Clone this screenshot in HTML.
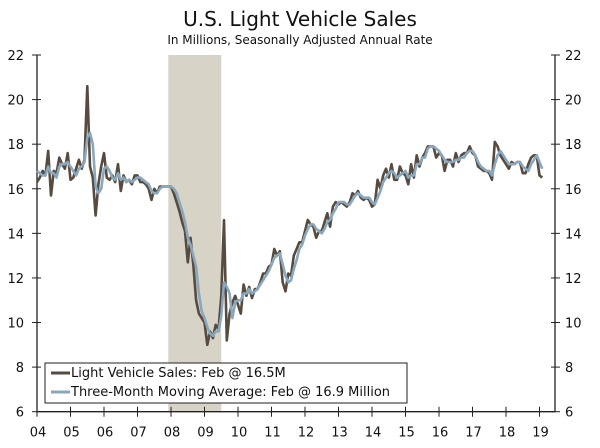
<!DOCTYPE html>
<html><head><meta charset="utf-8"><style>
body{margin:0;background:#fff;}
svg{display:block;font-family:"DejaVu Sans","Liberation Sans",sans-serif;}
</style></head><body>
<svg id="c" width="600" height="448">
<text x="300" y="26" text-anchor="middle" font-size="20" fill="#111">U.S. Light Vehicle Sales</text>
<text x="300" y="44" text-anchor="middle" font-size="12" fill="#111">In Millions, Seasonally Adjusted Annual Rate</text>
<g id="plot"></g>
</svg>
<script>
const yearLabels=["04","05","06","07","08","09","10","11","12","13","14","15","16","17","18","19"];
const yTicks=[6,8,10,12,14,16,18,20,22];
const recession=[2007.92,2009.5];
const sales=[
16.3,16.5,16.8,16.6,17.7,15.7,16.8,16.7,17.4,17.1,16.9,17.6,
16.4,16.5,16.9,17.3,16.9,17.3,20.6,17.0,16.5,14.8,16.2,17.0,
17.6,16.5,16.4,16.6,16.3,17.1,15.9,16.6,16.3,16.4,16.2,16.6,
16.6,16.3,16.3,16.2,16.0,15.5,16.0,15.8,16.1,16.1,16.1,16.1,
16.1,15.8,15.4,15.0,14.5,14.1,12.7,13.8,12.6,11.0,10.4,10.2,
10.0,9.0,9.6,9.3,9.9,9.7,11.2,14.6,9.2,10.4,10.9,11.2,
10.8,10.4,11.7,11.2,11.6,11.1,11.5,11.5,11.8,12.2,12.2,12.5,
12.6,13.3,13.0,13.2,11.8,11.4,12.2,12.1,13.0,13.3,13.6,13.6,
14.1,14.6,14.4,14.3,13.8,14.1,14.1,14.5,14.9,14.3,15.2,15.4,
15.3,15.4,15.3,15.2,15.4,15.8,15.7,15.9,15.6,15.5,15.6,15.5,
15.2,15.3,16.4,16.0,16.6,16.9,16.5,17.1,16.4,16.4,17.0,16.7,
16.6,16.2,17.1,16.5,17.5,17.0,17.4,17.6,17.9,17.9,17.9,17.4,
17.6,17.5,16.8,17.3,17.3,17.0,17.6,17.2,17.5,17.6,17.6,17.9,
17.6,17.5,17.0,16.9,16.8,16.8,16.7,16.4,18.1,17.9,17.5,17.3,
17.1,16.9,17.2,17.1,17.2,17.2,16.7,16.7,17.1,17.4,17.5,17.5,
16.6,16.5];
const movingAvg=[
16.8,16.7,16.6,16.6,17.0,16.7,16.7,16.5,17.0,17.1,17.1,17.2,
17.0,16.8,16.6,16.9,17.0,17.2,18.3,18.5,18.0,16.1,15.8,16.0,
16.9,17.0,16.8,16.5,16.4,16.7,16.4,16.5,16.3,16.4,16.3,16.4,
16.5,16.5,16.4,16.3,16.2,15.9,15.8,15.8,16.0,16.1,16.1,16.1,
16.1,16.0,15.8,15.4,15.0,14.5,13.8,13.5,13.0,12.5,11.3,10.5,
10.2,9.8,9.5,9.4,9.6,9.6,10.3,11.8,11.6,11.3,10.2,10.9,
11.0,11.0,11.3,11.3,11.5,11.3,11.4,11.5,11.7,11.9,12.1,12.3,
12.6,12.9,13.0,13.1,12.6,12.1,11.8,11.9,12.4,12.8,13.3,13.5,
13.9,14.2,14.4,14.4,14.2,14.1,14.0,14.2,14.5,14.6,14.9,15.1,
15.4,15.4,15.4,15.3,15.3,15.5,15.7,15.8,15.7,15.6,15.6,15.6,
15.4,15.3,15.6,15.9,16.3,16.5,16.7,16.8,16.7,16.5,16.6,16.7,
16.8,16.5,16.6,16.6,17.1,17.1,17.4,17.4,17.8,17.9,17.9,17.8,
17.7,17.5,17.3,17.2,17.2,17.2,17.3,17.3,17.4,17.4,17.6,17.7,
17.7,17.5,17.2,17.0,16.9,16.8,16.8,16.6,17.1,17.5,17.7,17.5,
17.3,17.1,17.1,17.1,17.2,17.2,17.0,16.9,16.8,17.1,17.3,17.5,
17.2,16.9];
const L=37,R=555,T=55,B=411.7;
const x=t=>L+(t-2004)*33.5;
const y=v=>B-(v-6)*(B-T)/16;
const g=document.getElementById('plot');
const NS='http://www.w3.org/2000/svg';
function mk(tag,a){const e=document.createElementNS(NS,tag);for(const k in a)e.setAttribute(k,a[k]);g.appendChild(e);return e;}
const rec=mk('rect',{x:x(recession[0]),y:T,width:x(recession[1])-x(recession[0]),height:B-T,fill:'#d7d3c6'});


const ax=mk('path',{d:`M${L},${T}V${B}H${R}V${T}`,fill:'none',stroke:'#222','stroke-width':1.3});


yTicks.forEach(v=>{
 mk('line',{x1:L-5,x2:L+4,y1:y(v),y2:y(v),stroke:'#222'});
 mk('line',{x1:R-4,x2:R+5,y1:y(v),y2:y(v),stroke:'#222'});
 const a=mk('text',{x:L-13,y:y(v)+5,'text-anchor':'end','font-size':13,fill:'#111'});a.textContent=v;
 
 
 const b=mk('text',{x:R+10,y:y(v)+5,'font-size':13,fill:'#111'});b.textContent=v;
 
 
});
yearLabels.forEach((lab,i)=>{
 const xx=x(2004+i);
 mk('line',{x1:xx,x2:xx,y1:B-5,y2:B+5,stroke:'#222'});
 const t=mk('text',{x:xx+1,y:B+25,'text-anchor':'middle','font-size':13,fill:'#111'});t.textContent=lab;
 
 
});
function line(arr,col,name){
 const d=arr.map((v,i)=>(i?'L':'M')+x(2004+i/12).toFixed(1)+','+y(v).toFixed(1)).join('');
 const p=mk('path',{d,fill:'none',stroke:col,'stroke-width':2.6,'stroke-linejoin':'round'});
 
 
}
line(sales,'#574b40','sales-line');
line(movingAvg,'#89a7bd','moving-average-line');
const lb=mk('rect',{x:45,y:363,width:362,height:40,fill:'#fff',stroke:'#222','stroke-width':1});


[['#574b40','Light Vehicle Sales: Feb @ 16.5M',377],['#89a7bd','Three-Month Moving Average: Feb @ 16.9 Million',396]].forEach(([c,t,yy])=>{
 mk('line',{x1:51,x2:70,y1:yy-4,y2:yy-4,stroke:c,'stroke-width':3});
 const e=mk('text',{x:71,y:yy,'font-size':13,fill:'#111'});e.textContent=t;
 
 
});
</script>
</body></html>
